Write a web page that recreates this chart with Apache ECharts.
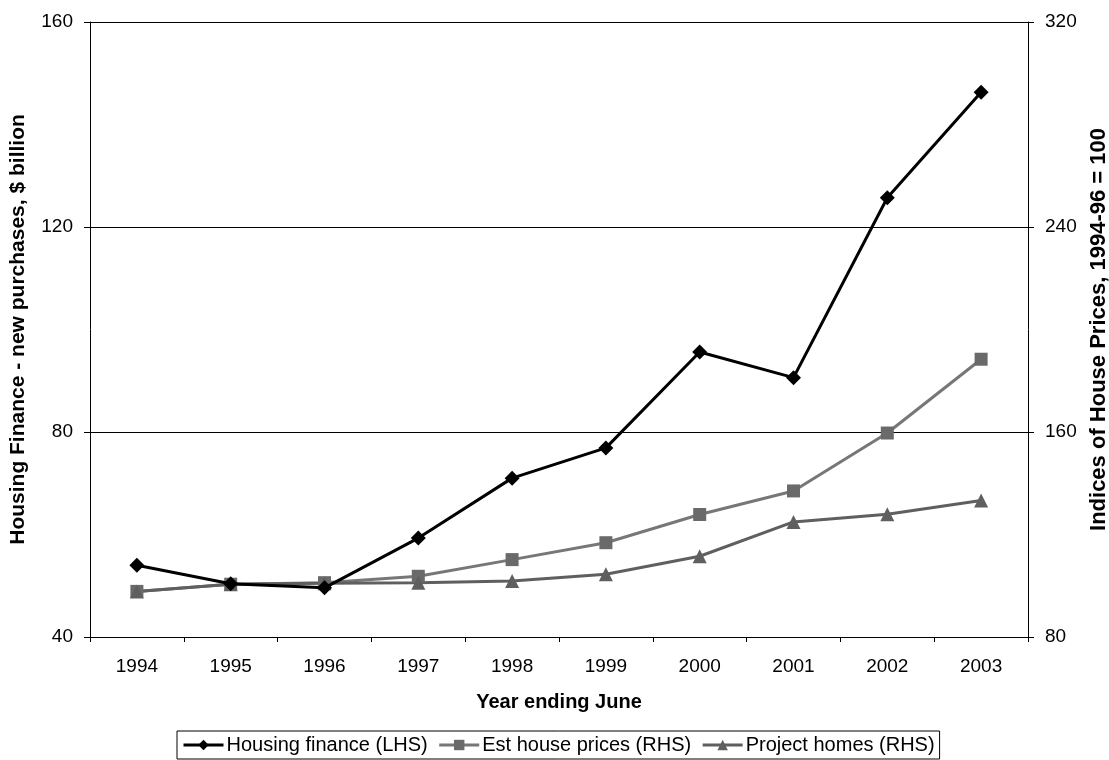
<!DOCTYPE html>
<html>
<head>
<meta charset="utf-8">
<script src="https://cdn.jsdelivr.net/npm/echarts@6/dist/echarts.min.js"></script>
<style>
html, body { margin: 0; padding: 0; background: #fff; }
#chart { width: 1109px; height: 760px; }
</style>
</head>
<body>
<div id="chart"></div>
<script>
var years = ['1994', '1995', '1996', '1997', '1998', '1999', '2000', '2001', '2002', '2003'];
var housingFinance = [54.0, 50.4, 49.6, 59.3, 71.0, 76.9, 95.6, 90.6, 125.7, 146.3];
var estHousePrices = [97.8, 100.6, 101.2, 103.7, 110.2, 116.8, 127.8, 137.0, 159.6, 188.4];
var projectHomes = [97.8, 100.6, 101.0, 101.2, 101.9, 104.5, 111.5, 124.9, 127.9, 133.3];

var font = 'Liberation Sans, Arial, sans-serif';

var chart = echarts.init(document.getElementById('chart'));
var option = {
	animation: false,
	textStyle: { fontFamily: font },
	grid: {
		left: 90,
		right: 81,
		top: 22,
		bottom: 123,
		outerBoundsMode: 'none',
		containLabel: false
	},
	legend: {
		bottom: 1,
		left: 177,
		itemGap: 10,
		itemWidth: 40,
		itemHeight: 13,
		padding: [4, 5],
		borderColor: '#000',
		borderWidth: 1,
		borderRadius: 0,
		lineStyle: { width: 3 },
		textStyle: { fontFamily: font, fontSize: 20, color: '#000', padding: [0, 0, 0, -2] },
		data: ['Housing finance (LHS)', 'Est house prices (RHS)', 'Project homes (RHS)']
	},
	xAxis: {
		type: 'category',
		data: years,
		name: 'Year ending June',
		nameLocation: 'middle',
		nameGap: 55,
		nameTextStyle: { fontFamily: font, fontSize: 20, fontWeight: 'bold', color: '#000' },
		axisLine: { lineStyle: { color: '#000', width: 1 } },
		axisTick: { show: true, length: 5, lineStyle: { color: '#000' } },
		axisLabel: { fontFamily: font, fontSize: 19, color: '#000', margin: 20 }
	},
	yAxis: [{
		type: 'value',
		min: 40,
		max: 160,
		interval: 40,
		name: 'Housing Finance - new purchases, $ billion',
		nameLocation: 'middle',
		nameGap: 61,
		nameTextStyle: { fontFamily: font, fontSize: 21, fontWeight: 'bold', color: '#000' },
		axisLine: { show: true, lineStyle: { color: '#000', width: 1 } },
		axisTick: { show: true, length: 6, lineStyle: { color: '#000' } },
		axisLabel: { fontFamily: font, fontSize: 19, color: '#000', margin: 17 },
		splitLine: { show: true, lineStyle: { color: '#000', width: 1 } }
	}, {
		type: 'value',
		min: 80,
		max: 320,
		interval: 80,
		name: 'Indices of House Prices, 1994-96 = 100',
		nameLocation: 'middle',
		nameGap: 58,
		nameTextStyle: { fontFamily: font, fontSize: 22, fontWeight: 'bold', color: '#000' },
		axisLine: { show: true, lineStyle: { color: '#000', width: 1 } },
		axisTick: { show: true, length: 6, lineStyle: { color: '#000' } },
		axisLabel: { fontFamily: font, fontSize: 19, color: '#000', margin: 17 },
		splitLine: { show: false }
	}],
	series: [{
		name: 'Housing finance (LHS)',
		type: 'line',
		yAxisIndex: 0,
		data: housingFinance,
		symbol: 'diamond',
		symbolSize: 15,
		lineStyle: { color: '#000', width: 3 },
		itemStyle: { color: '#000' },
		z: 4
	}, {
		name: 'Est house prices (RHS)',
		type: 'line',
		yAxisIndex: 1,
		data: estHousePrices,
		symbol: 'rect',
		symbolSize: 13,
		lineStyle: { color: '#777', width: 3 },
		itemStyle: { color: '#6a6a6a' },
		z: 3
	}, {
		name: 'Project homes (RHS)',
		type: 'line',
		yAxisIndex: 1,
		data: projectHomes,
		symbol: 'triangle',
		symbolSize: 14,
		lineStyle: { color: '#5f5f5f', width: 3 },
		itemStyle: { color: '#5f5f5f' },
		z: 3
	}]
};
chart.setOption(option);
</script>
</body>
</html>
